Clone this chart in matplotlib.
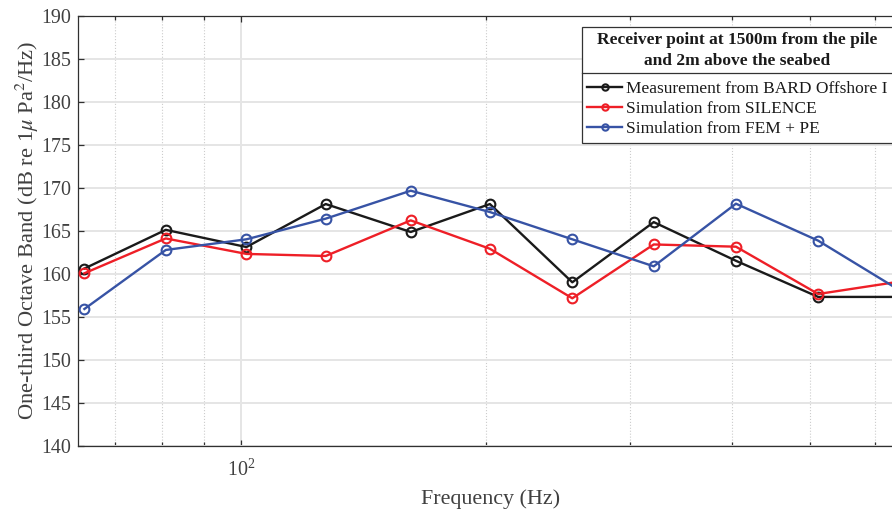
import matplotlib
matplotlib.use("Agg")
import matplotlib.pyplot as plt
from matplotlib.ticker import FixedLocator, NullFormatter, LogFormatterSciNotation
from matplotlib.lines import Line2D

# ---- data ----
freq_hz = [64.2, 80.8, 101.5, 127, 161.5, 202, 255, 321, 405, 511, 645]
measurement = [160.6, 165.1, 163.1, 168.1, 164.85, 168.1, 159.0, 166.0, 161.5, 157.3, 157.3]
silence = [160.05, 164.1, 162.3, 162.06, 166.2, 162.9, 157.14, 163.4, 163.14, 157.64, 159.1]
fem_pe = [155.9, 162.76, 164.0, 166.4, 169.65, 167.17, 164.0, 160.86, 168.14, 163.84, 158.0]
series_labels = ["Measurement from BARD Offshore I", "Simulation from SILENCE", "Simulation from FEM + PE"]
legend_title = "Receiver point at 1500m from the pile\nand 2m above the seabed"
yticks = [140, 145, 150, 155, 160, 165, 170, 175, 180, 185, 190]
minor_xticks = [70, 80, 90, 200, 300, 400, 500, 600]

plt.rcParams['font.family'] = ['Liberation Serif', 'DejaVu Serif']
plt.rcParams['mathtext.fontset'] = 'stix'

W, H = 892, 512
fig = plt.figure(figsize=(W / 100, H / 100), dpi=100)
left_px, right_px, top_px, bot_px = 78.3, 903.3, 15.7, 445.7
ax = fig.add_axes([left_px / W, 1 - bot_px / H, (right_px - left_px) / W, (bot_px - top_px) / H])

txt = '#404040'
colors = ['#1a1a1a', '#ee1f27', '#3753a5']
for ys, c, lab in zip([measurement, silence, fem_pe], colors, series_labels):
    ax.plot(freq_hz, ys, color=c, lw=1.7, marker='o', ms=7, mfc='none',
            mec=c, mew=1.5, label=lab, zorder=3)

ax.set_xscale('log')
ax.set_xlim(63.1, 650)
ax.set_ylim(140, 190)
ax.set_yticks(yticks)
ax.xaxis.set_major_locator(FixedLocator([100]))
ax.xaxis.set_major_formatter(LogFormatterSciNotation())
ax.xaxis.set_minor_locator(FixedLocator(minor_xticks))
ax.xaxis.set_minor_formatter(NullFormatter())

ax.grid(True, which='major', color='#e5e5e5', lw=1.4, ls='-', zorder=0)
ax.grid(True, which='minor', axis='x', color='#cccccc', lw=0.8, ls=':', zorder=0)
ax.set_axisbelow(True)

for s in ax.spines.values():
    s.set_color('#303030')
    s.set_linewidth(0.9)
ax.tick_params(which='both', direction='in', top=True, right=True, colors='#303030',
               labelsize=14.4, labelcolor=txt)
ax.tick_params(which='major', length=4.5, width=0.9)
ax.tick_params(which='minor', length=3, width=0.9)
ax.tick_params(axis='y', pad=5)
ax.tick_params(axis='x', pad=10)

ax.set_xlabel('Frequency (Hz)', fontsize=15.8, color=txt, labelpad=6)
ax.set_ylabel('One-third Octave Band (dB re 1$\\mu$ Pa$^2$/Hz)', fontsize=16.2, color=txt, labelpad=0)

leg = ax.legend(loc='upper left', bbox_to_anchor=(581.7 / W, 1 - 26.7 / H),
                bbox_transform=fig.transFigure, borderaxespad=0, frameon=True,
                fancybox=False, edgecolor='#333333', framealpha=1,
                fontsize=12.5, title=legend_title,
                title_fontproperties={'weight': 'bold', 'size': 12.5, 'family': 'Liberation Serif'},
                handlelength=2.0, handletextpad=0.22, borderpad=0.33, labelspacing=0.235,
                markerscale=0.65)
leg.get_frame().set_linewidth(0.9)
leg.get_title().set_multialignment('center')
leg.get_title().set_linespacing(1.35)
leg.get_title().set_color('#1a1a1a')
for t in leg.get_texts():
    t.set_color('#1a1a1a')
leg._legend_box.sep = 8.5

fig.canvas.draw()
r = fig.canvas.get_renderer()
lb = leg.get_window_extent(r)
tb = leg.get_title().get_window_extent(r)
eb = leg.get_texts()[0].get_window_extent(r)
ysep = tb.y0 + 0.35 * (eb.y1 - tb.y0)
fig.add_artist(Line2D([lb.x0 / W, lb.x1 / W], [ysep / H, ysep / H], transform=fig.transFigure,
                      color='#333333', lw=0.9, zorder=10))

fig.savefig('out.png', dpi=100)
